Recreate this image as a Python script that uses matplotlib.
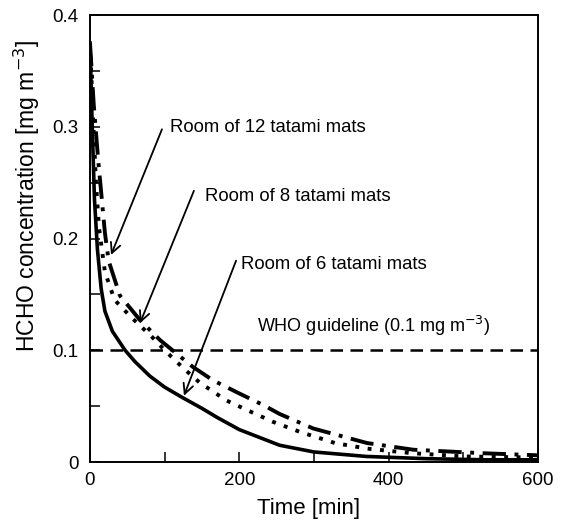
import matplotlib
matplotlib.use('Agg')
import matplotlib.pyplot as plt
from matplotlib.ticker import MultipleLocator

plt.rcParams['font.family'] = ['Liberation Sans', 'DejaVu Sans']

# 6 tatami mats (solid)
t6 = [0, 3, 6, 10, 15, 20, 30, 47, 60, 80, 100, 123, 150, 170, 200, 254, 300, 370, 450, 530, 600]
c6 = [0.375, 0.30, 0.235, 0.19, 0.155, 0.135, 0.117, 0.100, 0.090, 0.077, 0.067, 0.058,
      0.048, 0.040, 0.029, 0.015, 0.009, 0.005, 0.003, 0.002, 0.002]

# 8 tatami mats (dotted)
t8 = [0, 4, 8, 12, 20, 33, 56, 83, 100, 125, 147, 183, 212, 245, 281, 328, 371, 430, 500, 600]
c8 = [0.375, 0.31, 0.25, 0.21, 0.17, 0.145, 0.129, 0.112, 0.100, 0.084, 0.071, 0.055, 0.046,
      0.036, 0.027, 0.017, 0.012, 0.008, 0.005, 0.004]

# 12 tatami mats (dash-dot)
t12 = [0, 5, 11, 20, 25, 40, 67, 94, 116, 138, 165, 201, 232, 254, 299, 371, 433, 522, 600]
c12 = [0.375, 0.32, 0.27, 0.205, 0.18, 0.149, 0.127, 0.109, 0.097, 0.085, 0.073, 0.061,
       0.051, 0.043, 0.030, 0.017, 0.011, 0.008, 0.006]

who_level = 0.1

fig = plt.figure(figsize=(5.61, 5.21), dpi=100)
ax = fig.add_axes([0.1604, 0.1132, 0.7986, 0.858])

ax.plot(t6, c6, color='black', lw=2.6, ls='-')
ax.plot(t8, c8, color='black', lw=2.8, ls=(0, (1, 2.2)))
ax.plot(t12, c12, color='black', lw=2.8, ls=(0, (6, 2.2, 1, 2.2)))
ax.axhline(who_level, color='black', lw=1.8, ls=(0, (5, 3)))

ax.set_xlim(0, 600)
ax.set_ylim(0, 0.4)
ax.xaxis.set_major_locator(MultipleLocator(200))
ax.xaxis.set_minor_locator(MultipleLocator(100))
ax.yaxis.set_minor_locator(MultipleLocator(0.05))
ax.set_yticks([0, 0.1, 0.2, 0.3, 0.4])
ax.set_yticklabels(['0', '0.1', '0.2', '0.3', '0.4'])
ax.tick_params(which='both', direction='in', labelsize=13.5, width=1.1, length=7)
ax.tick_params(axis='y', which='both', pad=8)
ax.tick_params(axis='x', which='both', pad=7)
for s in ax.spines.values():
    s.set_linewidth(1.4)

ax.set_xlabel('Time [min]', fontsize=16)
ax.set_ylabel('HCHO concentration [mg m$^{-3}$]', fontsize=16.5)
ax.xaxis.set_label_coords(0.487, -0.103)
ax.yaxis.set_label_coords(-0.14, 0.595)
ax.xaxis.label.set_va('center')
ax.yaxis.label.set_va('center')

aprops = dict(arrowstyle='->', lw=1.3, color='black', mutation_scale=18)
ax.annotate('', xy=(26.8, 0.183), xytext=(97.8, 0.300), arrowprops=aprops)
ax.annotate('', xy=(65.6, 0.122), xytext=(140.6, 0.245), arrowprops=aprops)
ax.annotate('', xy=(124.5, 0.057), xytext=(197, 0.1825), arrowprops=aprops)
ax.text(107, 0.299, 'Room of 12 tatami mats', fontsize=13.3, va='center')
ax.text(154, 0.238, 'Room of 8 tatami mats', fontsize=13.3, va='center')
ax.text(202, 0.177, 'Room of 6 tatami mats', fontsize=13.3, va='center')
ax.text(224, 0.122, 'WHO guideline (0.1 mg m$^{-3}$)', fontsize=13, va='center')

fig.savefig('out.png', dpi=100)
